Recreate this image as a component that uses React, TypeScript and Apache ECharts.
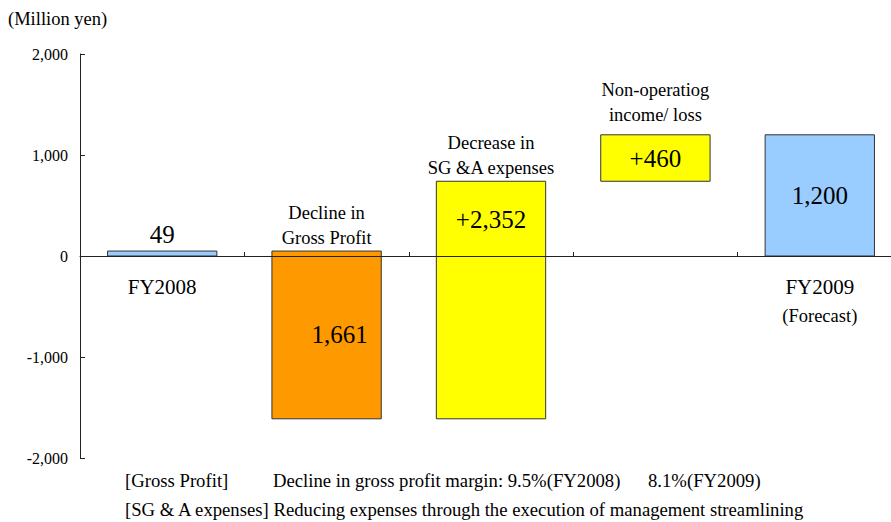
import React, { useEffect, useRef } from "react";
import * as echarts from "echarts";

const categories = [
  "FY2008",
  "Decline in\nGross Profit",
  "Decrease in\nSG &A expenses",
  "Non-operatiog\nincome/ loss",
  "FY2009",
];
const changes = [49, -1661, 2352, 460, 1200];
const isTotal = [true, false, false, false, true];
const valueLabels = ["49", "1,661", "+2,352", "+460", "1,200"];
const axisSubLabels = ["", "", "", "", "(Forecast)"];
const yMin = -2000;
const yMax = 2000;
const yInterval = 1000;

const barColors = ["#99CCFF", "#FF9900", "#FFFF00", "#FFFF00", "#99CCFF"];
// label placement: "above" | "center" | "nearTop"
const labelModes = ["above", "center", "nearTop", "center", "center"];
const labelDx = [0, 13, 0, 0, 0];
const nameGap = [0, 1, 1, 7, 0];

const FONT = "'Liberation Serif', 'Times New Roman', serif";

function buildData() {
  let running = 0;
  return changes.map((v, i) => {
    let s: number, e: number;
    if (isTotal[i]) {
      s = 0;
      e = v;
    } else {
      s = running;
      e = running + v;
    }
    running = e;
    return [i, s, e];
  });
}

export default function App() {
  const ref = useRef<HTMLDivElement>(null);
  useEffect(() => {
    if (!ref.current) return;
    const chart = echarts.init(ref.current, null, { renderer: "svg" });
    const data = buildData();
    chart.setOption({
      animation: false,
      textStyle: { fontFamily: FONT },
      grid: {
        left: 80,
        width: 822,
        top: 54,
        height: 404,
        containLabel: false,
        outerBoundsMode: "none",
      },
      xAxis: {
        type: "category",
        data: categories,
        z: 10,
        axisLine: { onZero: true, lineStyle: { color: "#222", width: 1 } },
        axisTick: { show: true, inside: true, length: 4, lineStyle: { color: "#222" } },
        axisLabel: { show: false },
        splitLine: { show: false },
      },
      yAxis: {
        type: "value",
        min: yMin,
        max: yMax,
        interval: yInterval,
        axisLine: { show: true, lineStyle: { color: "#222", width: 1 } },
        axisTick: { show: true, inside: true, length: 5, lineStyle: { color: "#222" } },
        axisLabel: {
          margin: 12,
          fontFamily: FONT,
          fontSize: 16,
          color: "#000",
          formatter: (v: number) => v.toLocaleString("en-US"),
        },
        splitLine: { show: false },
      },
      series: [
        {
          type: "custom",
          data,
          renderItem: (params: any, api: any) => {
            const i = api.value(0);
            const s = api.value(1);
            const e = api.value(2);
            const p1 = api.coord([i, s]);
            const p2 = api.coord([i, e]);
            const zero = api.coord([i, 0]);
            const w = api.size([1, 0])[0] * 0.665;
            const top = Math.min(p1[1], p2[1]);
            const bottom = Math.max(p1[1], p2[1]);
            const cx = p1[0];
            const children: any[] = [
              {
                type: "rect",
                shape: { x: cx - w / 2, y: top, width: w, height: bottom - top },
                style: { fill: barColors[i], stroke: "#333", lineWidth: 1 },
              },
            ];
            const mode = labelModes[i];
            let ly = (top + bottom) / 2;
            let va = "middle";
            if (mode === "above") {
              ly = top - 4;
              va = "bottom";
            } else if (mode === "nearTop") {
              ly = top + 38;
            }
            children.push({
              type: "text",
              x: cx + labelDx[i],
              y: ly,
              style: {
                text: valueLabels[i],
                fontFamily: FONT,
                fontSize: 25,
                fill: "#000",
                align: "center",
                verticalAlign: va,
              },
            });
            if (!isTotal[i]) {
              children.push({
                type: "text",
                x: cx,
                y: top - nameGap[i],
                style: {
                  text: categories[i],
                  fontFamily: FONT,
                  fontSize: 18.5,
                  lineHeight: 25,
                  fill: "#000",
                  align: "center",
                  verticalAlign: "bottom",
                },
              });
            } else {
              children.push({
                type: "text",
                x: cx,
                y: zero[1] + 31,
                style: {
                  text: categories[i],
                  fontFamily: FONT,
                  fontSize: 21,
                  fill: "#000",
                  align: "center",
                  verticalAlign: "middle",
                },
              });
              if (axisSubLabels[i]) {
                children.push({
                  type: "text",
                  x: cx,
                  y: zero[1] + 60,
                  style: {
                    text: axisSubLabels[i],
                    fontFamily: FONT,
                    fontSize: 18.5,
                    fill: "#000",
                    align: "center",
                    verticalAlign: "middle",
                  },
                });
              }
            }
            return { type: "group", children };
          },
        },
      ],
      graphic: [
        {
          type: "text",
          left: 8,
          top: 9,
          style: { text: "(Million yen)", fontFamily: FONT, fontSize: 18.5, fill: "#000" },
        },
        {
          type: "text",
          left: 125,
          top: 471,
          style: { text: "[Gross Profit]", fontFamily: FONT, fontSize: 18.7, fill: "#000" },
        },
        {
          type: "text",
          left: 273,
          top: 471,
          style: {
            text: "Decline in gross profit margin: 9.5%(FY2008)",
            fontFamily: FONT,
            fontSize: 18.7,
            fill: "#000",
          },
        },
        {
          type: "text",
          left: 648,
          top: 471,
          style: { text: "8.1%(FY2009)", fontFamily: FONT, fontSize: 18.7, fill: "#000" },
        },
        {
          type: "text",
          left: 125,
          top: 500,
          style: {
            text: "[SG & A expenses] Reducing expenses through the execution of management streamlining",
            fontFamily: FONT,
            fontSize: 18.7,
            fill: "#000",
          },
        },
      ],
    });
    return () => chart.dispose();
  }, []);
  return <div ref={ref} style={{ width: 891, height: 522, position: "absolute", left: 0, top: 0 }} />;
}
